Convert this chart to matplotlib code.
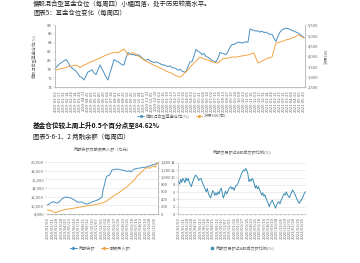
import numpy as np
import pandas as pd
import matplotlib
matplotlib.use("Agg")
import matplotlib.pyplot as plt
from matplotlib.lines import Line2D
from matplotlib.ticker import FuncFormatter

plt.rcParams['font.family'] = ['Noto Sans CJK SC', 'DejaVu Sans']

# ---- data ----
# top chart: fund position (left axis, %) and CSI 300 (right axis)
fund_pos = [
    78.4, 78.9, 79.3, 79.6, 79.9, 80.2, 79.6, 78.7, 78.3, 77.9,
    77.6, 77.0, 76.3, 76.1, 75.6, 76.5, 77.4, 77.6, 77.9, 77.2,
    76.8, 77.9, 79.0, 78.1, 77.2, 76.3, 75.6, 77.2, 78.6, 80.2,
    79.9, 79.7, 79.4, 79.0, 79.0, 80.6, 81.8, 81.5, 81.3, 81.3,
    81.1, 81.3, 81.0, 80.6, 80.2, 80.0, 80.3, 79.9, 79.7, 79.5,
    79.7, 79.5, 79.3, 79.0, 79.0, 78.8, 78.6, 78.8, 78.4, 78.3,
    78.2, 77.8, 78.0, 77.6, 77.4, 77.4, 78.6, 79.7, 79.7, 81.0,
    82.5, 82.1, 81.8, 81.3, 81.6, 80.9, 80.7, 80.4, 80.0, 79.8,
    79.7, 80.5, 81.8, 81.6, 81.5, 81.3, 82.0, 83.0, 83.6, 83.6,
    83.9, 84.1, 84.1, 83.9, 84.1, 84.2, 84.1, 87.1, 86.9, 86.8,
    86.6, 86.7, 86.4, 86.6, 86.3, 86.4, 86.1, 85.9, 85.9, 85.0,
    84.3, 85.5, 86.4, 86.9, 87.1, 87.3, 87.2, 87.0, 86.8, 86.6,
    86.4, 86.2, 85.9, 85.5, 85.2,
]
hs300 = [
    3322, 3350, 3380, 3400, 3420, 3450, 3470, 3500, 3520, 3540,
    3564, 3520, 3450, 3500, 3560, 3600, 3650, 3700, 3740, 3780,
    3820, 3860, 3900, 3950, 4000, 4040, 4080, 4120, 4145, 4170,
    4193, 4150, 4220, 4280, 4338, 4200, 4048, 4100, 4150, 4145,
    4080, 4000, 3950, 3880, 3806, 3760, 3700, 3650, 3600, 3550,
    3500, 3467, 3420, 3380, 3330, 3280, 3225, 3200, 3150, 3100,
    3050, 3010, 2983, 3050, 3150, 3250, 3322, 3450, 3560, 3661,
    3750, 3850, 3951, 3900, 3850, 3830, 3806, 3760, 3720, 3700,
    3680, 3661, 3750, 3820, 3903, 3880, 3900, 3930, 3950, 3951,
    3940, 3970, 3990, 4000, 4020, 4040, 4048, 4080, 4120, 4145,
    3900, 3661, 3700, 3760, 3806, 3850, 3900, 3930, 3951, 4300,
    4629, 4650, 4677, 4700, 4740, 4780, 4800, 4830, 4871, 4900,
    4950, 5016, 4980, 4920, 4871,
]
top_dates = pd.date_range('2019-01-03', periods=len(fund_pos), freq='7D').strftime('%Y-%m-%d')

# bottom left: margin balance (left axis) and financing buy amount (right axis)
margin_bal = [
    10077, 10200, 10400, 10550, 10700, 10838, 10750, 10650, 10550, 10538,
    10700, 10950, 11200, 11500, 11692, 11800, 11900, 11923, 11850, 11780,
    11720, 11692, 11550, 11400, 11250, 11100, 10900, 10769, 10700, 10780,
    10750, 10769, 10600, 10500, 10400, 10308, 10350, 10450, 10550, 10650,
    10769, 10850, 10950, 11050, 11150, 11231, 11350, 11500, 11700, 11923,
    13538, 14500, 15600, 16538, 16800, 16900, 17000, 17600, 18154, 18200,
    18300, 18250, 18385, 18300, 18350, 18250, 18200, 18154, 18100, 18050,
    18000, 17900, 17800, 17923, 18000, 17700, 17900, 18200, 18385, 18400,
    18450, 18500, 18615, 18600, 18650, 18700, 18750, 18800, 18780, 18846,
    18900, 19000, 19100, 19200, 19308, 19350, 19400, 19500, 19650, 19769,
]
fin_buy = [
    108, 100, 95, 90, 80, 60, 45, 35, 40, 55,
    70, 80, 90, 100, 108, 115, 120, 125, 130, 135,
    140, 145, 150, 153, 158, 163, 168, 175, 180, 185,
    190, 195, 200, 205, 210, 215, 220, 226, 232, 238,
    235, 240, 246, 252, 258, 265, 272, 280, 288, 295,
    300, 315, 330, 350, 370, 390, 410, 430, 455, 480,
    500, 515, 530, 550, 570, 590, 615, 640, 660, 680,
    700, 720, 745, 770, 800, 830, 860, 880, 910, 950,
    990, 1030, 1060, 1080, 1110, 1140, 1170, 1200, 1220, 1240,
    1250, 1240, 1230, 1250, 1270, 1300, 1280, 1260, 1320, 1380,
]
bl_dates = pd.date_range('2019-01-03', periods=len(margin_bal), freq='7D').strftime('%Y/%m/%d')

# bottom right: margin trade share of A-share turnover (%)
margin_share = [
    8.9, 8.2, 9.5, 8.7, 9.8, 9.3, 8.6, 9.9, 9.1, 9.8,
    8.8, 8.1, 7.5, 8.6, 9.4, 10.2, 10.7, 10.3, 10.0, 9.2,
    9.6, 9.8, 8.9, 8.2, 7.5, 6.8, 6.1, 7.0, 5.6, 5.0,
    4.4, 5.3, 6.4, 6.0, 5.1, 5.8, 5.2, 6.1, 5.5, 6.6,
    7.1, 5.8, 4.4, 5.2, 6.3, 5.5, 6.0, 6.8, 7.2, 7.5,
    6.9, 7.3, 6.5, 7.2, 7.8, 8.0, 8.6, 9.4, 10.2, 11.0,
    11.6, 12.1, 11.8, 12.5, 12.0, 11.0, 8.9, 9.5, 9.0, 9.8,
    9.3, 8.2, 7.1, 7.8, 6.9, 7.5, 6.6, 6.0, 5.2, 5.8,
    4.9, 5.3, 4.3, 3.6, 2.9, 2.0, 2.8, 3.4, 3.8, 2.9,
    2.3, 1.6, 2.5, 3.1, 3.4, 2.8, 3.6, 4.3, 5.0, 5.6,
    5.2, 6.1, 5.4, 4.8, 4.5, 5.3, 6.0, 6.6, 6.1, 5.5,
    4.8, 4.1, 3.5, 2.9, 3.4, 3.8, 4.3, 5.0, 5.7, 6.1,
]
br_dates = pd.date_range('2019-01-03', periods=len(margin_share), freq='7D').strftime('%Y/%m/%d')

BLUE = '#4a90c0'
ORANGE = '#f2a444'
TEAL = '#3d8db5'
GREY = '#666666'
SPINE = '#b0b0b0'

W, H = 360, 263
fig = plt.figure(figsize=(W / 100, H / 100), dpi=100)
fig.patch.set_facecolor('white')


def px_axes(x0, y0, x1, y1):
    # axes placed by pixel box (top-left origin)
    return fig.add_axes([x0 / W, 1 - y1 / H, (x1 - x0) / W, (y1 - y0) / H])


def style(ax, tick_fs=3):
    for s in ax.spines.values():
        s.set_color(SPINE)
        s.set_linewidth(0.4)
    ax.spines['top'].set_visible(False)
    ax.tick_params(length=1.2, width=0.3, pad=1, labelsize=tick_fs,
                   colors=SPINE, labelcolor=GREY)


comma = FuncFormatter(lambda v, p: f'{int(v):,}')

# ---- page text ----
fig.text(33 / W, 1 - 4 / H, '偏股混合型基金仓位（每周四）小幅回落，处于历史较高水平。',
         fontsize=4.6, va='center', ha='left', color='#222')
fig.text(33 / W, 1 - 13 / H, '图表5：基金仓位变化（每周四）',
         fontsize=4.6, va='center', ha='left', color='#222')
fig.text(33 / W, 1 - 125 / H, '基金仓位较上周上升0.5个百分点至84.62%',
         fontsize=4.8, va='center', ha='left', color='#111', fontweight='bold')
fig.text(33 / W, 1 - 137 / H, '图表5-6-1、2 两融余额（每周四）',
         fontsize=4.6, va='center', ha='left', color='#222')

# ---- top chart ----
ax = px_axes(55, 25, 305, 87)
x = np.arange(len(fund_pos))
ax.plot(x, fund_pos, color=BLUE, lw=0.7)
ax.set_ylim(74, 88)
ax.set_yticks(np.arange(74, 89, 2))
ax.set_xlim(-0.5, len(fund_pos) - 0.5)
ax.set_xticks(x[::2])
ax.set_xticklabels(top_dates[::2], rotation=90, fontsize=2.5)
style(ax)
ax.set_ylabel('偏股混合型基金仓位(%)', fontsize=3, color=GREY)
ax.yaxis.set_label_coords(-0.075, 0.5)

ax2 = ax.twinx()
ax2.plot(x, hs300, color=ORANGE, lw=0.7)
ax2.set_ylim(2500, 5500)
ax2.set_yticks(np.arange(2500, 5501, 500))
ax2.yaxis.set_major_formatter(comma)
style(ax2)
ax2.set_ylabel('沪深300', fontsize=3, color=GREY)
ax2.yaxis.set_label_coords(1.08, 0.5)

fig.legend(handles=[Line2D([], [], color=BLUE, lw=0.6, marker='o', ms=1.2),
                    Line2D([], [], color=ORANGE, lw=0.6, marker='o', ms=1.2)],
           labels=['偏股混合型基金仓位(%)', '沪深300(右)'],
           loc='center', bbox_to_anchor=(182 / W, 1 - 116 / H), ncol=2,
           fontsize=3, frameon=False, handlelength=1.6, handletextpad=0.4,
           columnspacing=1.5, labelcolor=GREY)

# ---- bottom left chart ----
fig.text(103 / W, 1 - 149 / H, '两融余额及融资买入额（亿元）',
         fontsize=3, ha='center', va='center', color=GREY)
axl = px_axes(47, 162, 158, 214)
xl = np.arange(len(margin_bal))
axl.plot(xl, margin_bal, color=BLUE, lw=0.7)
axl.set_ylim(8000, 20000)
axl.set_yticks(np.arange(8000, 20001, 2000))
axl.yaxis.set_major_formatter(comma)
axl.set_xlim(-0.5, len(margin_bal) - 0.5)
axl.set_xticks(xl[::4])
axl.set_xticklabels(bl_dates[::4], rotation=90, fontsize=2.6)
axl.grid(axis='y', color='#e2e2e2', lw=0.4)
style(axl)
axl.spines['left'].set_visible(False)

axl2 = axl.twinx()
axl2.plot(xl, fin_buy, color=ORANGE, lw=0.7)
axl2.set_ylim(0, 1400)
axl2.set_yticks(np.arange(0, 1401, 200))
axl2.yaxis.set_major_formatter(comma)
style(axl2)
axl2.spines['left'].set_visible(False)

fig.legend(handles=[Line2D([], [], color=BLUE, lw=0.7, marker='D', ms=1.2),
                    Line2D([], [], color=ORANGE, lw=0.7, marker='D', ms=1.2)],
           labels=['两融余额', '融资买入额'],
           loc='center', bbox_to_anchor=(100 / W, 1 - 248 / H), ncol=2,
           fontsize=3, frameon=False, handlelength=1.6, handletextpad=0.4,
           columnspacing=1.5, labelcolor=GREY)

# ---- bottom right chart ----
fig.text(242 / W, 1 - 152 / H, '两融交易额占A股成交额比例(%)',
         fontsize=3, ha='center', va='center', color=GREY)
axr = px_axes(178, 163, 306, 214)
xr = np.arange(len(margin_share))
axr.plot(xr, margin_share, color=TEAL, lw=0.7)
axr.set_ylim(0, 14)
axr.set_yticks(np.arange(0, 15, 2))
axr.set_xlim(-0.5, len(margin_share) - 0.5)
axr.set_xticks(xr[::4])
axr.set_xticklabels(br_dates[::4], rotation=90, fontsize=2.6)
axr.grid(axis='y', color='#e2e2e2', lw=0.4)
style(axr)
axr.spines['right'].set_visible(False)

fig.legend(handles=[Line2D([], [], color=TEAL, lw=0, marker='o', ms=1.6)],
           labels=['两融交易额占A股成交额比例(%)'],
           loc='center', bbox_to_anchor=(242 / W, 1 - 248 / H),
           fontsize=3, frameon=False, handlelength=1.0, handletextpad=0.4,
           labelcolor=GREY)

fig.savefig('out.png', dpi=100, facecolor='white')
